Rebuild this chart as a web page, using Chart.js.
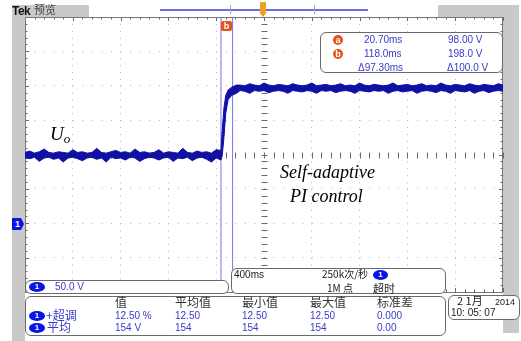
<!DOCTYPE html>
<html><head><meta charset="utf-8">
<script src="https://cdn.jsdelivr.net/npm/chart.js@4.4.1/dist/chart.umd.min.js"></script>
<style>
html,body{margin:0;padding:0;background:#fff;}
#wrap{position:relative;width:521px;height:341px;overflow:hidden;font-family:"Liberation Sans",Arial,sans-serif;}
canvas{position:absolute;left:0;top:0;}
.g{position:absolute;background:#c9c9c9;}
.box{position:absolute;background:#fff;border:1px solid #6a6a6a;border-radius:6px;box-sizing:border-box;}
.t{position:absolute;white-space:nowrap;line-height:1;}
.bl{color:#3a3ac8;}
.cjk{font-family:"Noto Sans CJK SC",sans-serif;}
.pill{position:absolute;background:#0a14e6;border-radius:50%;color:#fff;font-size:8px;line-height:10px;text-align:center;font-weight:bold;}
.oc{position:absolute;background:#e5531c;color:#fff;border-radius:50%;font-weight:bold;font-size:9px;line-height:10px;text-align:center;}
.serif{font-family:"Liberation Serif","Times New Roman",serif;font-style:italic;color:#000;}
</style></head>
<body><div id="wrap">
<div class="g" style="left:12px;top:5px;width:13px;height:336px"></div>
<div class="g" style="left:503px;top:5px;width:16px;height:328px"></div>
<div class="g" style="left:438px;top:5px;width:81px;height:12px"></div>
<div class="g" style="left:12px;top:5px;width:77px;height:12px"></div>
<canvas id="c" width="521" height="341"></canvas>
<div class="t" style="left:12px;top:5px;font-size:12px;font-weight:bold;color:#111;letter-spacing:-0.5px">Tek</div>
<div class="t cjk" style="left:34px;top:4px;font-size:11px;color:#444">预览</div>
<div style="position:absolute;left:160px;top:9px;width:208px;height:1.5px;background:#6b6bef"></div>
<div style="position:absolute;left:230px;top:5px;width:1px;height:9px;background:#aaa"></div>
<div style="position:absolute;left:314px;top:5px;width:1px;height:9px;background:#aaa"></div>
<div style="position:absolute;left:260px;top:2px;width:6px;height:10px;background:#f0a020;border-radius:1px"></div>
<div style="position:absolute;left:259px;top:12px;width:0;height:0;border-left:4px solid transparent;border-right:4px solid transparent;border-top:5px solid #f0a020"></div>
<div class="oc" style="left:221px;top:21px;width:11px;height:10px;border-radius:2px">b</div>

<div class="box" style="left:320px;top:32px;width:183px;height:41px"></div>
<div class="oc" style="left:333px;top:35px;width:10px;height:10px">a</div>
<div class="oc" style="left:333px;top:49px;width:10px;height:10px">b</div>
<div class="t bl" style="left:364px;top:35px;font-size:10px">20.70ms</div>
<div class="t bl" style="left:448px;top:35px;font-size:10px">98.00 V</div>
<div class="t bl" style="left:364px;top:49px;font-size:10px">118.0ms</div>
<div class="t bl" style="left:448px;top:49px;font-size:10px">198.0 V</div>
<div class="t bl" style="left:358px;top:63px;font-size:10px">Δ97.30ms</div>
<div class="t bl" style="left:447px;top:63px;font-size:10px">Δ100.0 V</div>

<div class="t serif" style="left:50px;top:124px;font-size:19px">U<sub style="font-size:13px;vertical-align:-3px">o</sub></div>
<div class="t serif" style="left:280px;top:163px;font-size:18px">Self-adaptive</div>
<div class="t serif" style="left:290px;top:187px;font-size:18px">PI control</div>

<div style="position:absolute;left:12px;top:218px;width:12px;height:12px;background:#0a14e6;clip-path:polygon(0 0,75% 0,100% 50%,75% 100%,0 100%);color:#fff;font-size:9px;font-weight:bold;line-height:12px;text-indent:3px">1</div>

<div class="box" style="left:25px;top:280px;width:204px;height:14px"></div>
<div class="pill" style="left:29px;top:282px;width:16px;height:10px">1</div>
<div class="t bl" style="left:55px;top:282px;font-size:10px">50.0 V</div>

<div class="box" style="left:231px;top:268px;width:215px;height:26px"></div>
<div class="t" style="left:234px;top:270px;font-size:10px;color:#222">400ms</div>
<div class="t cjk" style="left:322px;top:269px;font-size:10px;color:#222">250k次/秒</div>
<div class="pill" style="left:373px;top:270px;width:15px;height:10px">1</div>
<div class="t cjk" style="left:327px;top:283px;font-size:10px;color:#222">1M 点</div>
<div class="t cjk" style="left:373px;top:283px;font-size:11px;color:#222">超时</div>

<div class="box" style="left:25px;top:296px;width:421px;height:40px"></div>
<div class="t cjk" style="left:115px;top:296px;font-size:12px;color:#333">值</div>
<div class="t cjk" style="left:175px;top:296px;font-size:12px;color:#333">平均值</div>
<div class="t cjk" style="left:242px;top:296px;font-size:12px;color:#333">最小值</div>
<div class="t cjk" style="left:310px;top:296px;font-size:12px;color:#333">最大值</div>
<div class="t cjk" style="left:377px;top:296px;font-size:12px;color:#333">标准差</div>
<div class="pill" style="left:29px;top:311px;width:16px;height:10px">1</div>
<div class="t cjk bl" style="left:46px;top:309px;font-size:12px">+超调</div>
<div class="t bl" style="left:115px;top:311px;font-size:10px">12.50 %</div>
<div class="t bl" style="left:175px;top:311px;font-size:10px">12.50</div>
<div class="t bl" style="left:242px;top:311px;font-size:10px">12.50</div>
<div class="t bl" style="left:310px;top:311px;font-size:10px">12.50</div>
<div class="t bl" style="left:377px;top:311px;font-size:10px">0.000</div>
<div class="pill" style="left:29px;top:323px;width:16px;height:10px">1</div>
<div class="t cjk bl" style="left:47px;top:321px;font-size:12px">平均</div>
<div class="t bl" style="left:115px;top:323px;font-size:10px">154 V</div>
<div class="t bl" style="left:175px;top:323px;font-size:10px">154</div>
<div class="t bl" style="left:242px;top:323px;font-size:10px">154</div>
<div class="t bl" style="left:310px;top:323px;font-size:10px">154</div>
<div class="t bl" style="left:377px;top:323px;font-size:10px">0.00</div>

<div class="box" style="left:448px;top:295px;width:72px;height:25px"></div>
<div class="t cjk" style="left:457px;top:295px;font-size:11px;color:#222">2 1月</div>
<div class="t" style="left:495px;top:298px;font-size:9px;color:#222">2014</div>
<div class="t" style="left:451px;top:308px;font-size:10px;color:#222">10: 05: 07</div>
</div>
<script>
// time axis in ms (400 ms/div), voltage in V (50 V/div)
const timeMs = [0,40,80,120,160,200,240,280,320,360,400,440,480,520,560,600,640,680,720,760,800,840,880,920,960,1000,1040,1080,1120,1160,1200,1240,1280,1320,1360,1400,1440,1480,1520,1560,1600,
  1640,1650,1665,1680,1700,1730,1770,
  1800,1840,1880,1920,1960,2000,2040,2080,2120,2160,2200,2240,2280,2320,2360,2400,2440,2480,2520,2560,2600,2640,2680,2720,2760,2800,2840,2880,2920,2960,3000,3040,3080,3120,3160,3200,3240,3280,3320,3360,3400,3440,3480,3520,3560,3600,3640,3680,3720,3760,3800,3840,3880,3920,3960,4000];
const upperV = [103,105,102,104,108,103,102,104,103,102,107,103,104,102,103,109,103,102,104,106,103,104,102,108,103,104,102,103,107,102,104,103,102,109,103,102,105,103,104,102,107,
  106,135,168,186,194,198,201,
  201,200,203,201,200,204,201,200,202,201,200,203,201,200,201,204,200,201,202,200,201,203,200,201,200,204,201,200,202,201,200,201,204,200,201,202,200,201,203,200,201,200,204,201,200,202,201,200,203,201,200,202,201,200,203,201];
const lowerV = [95,94,96,90,95,96,93,95,89,95,96,94,91,95,96,93,95,89,96,94,95,92,96,95,90,94,96,95,92,95,96,90,95,94,96,91,95,96,93,89,95,
  92,98,125,160,180,186,189,
  193,192,189,193,192,193,190,192,193,192,189,193,192,191,193,192,189,193,192,193,190,192,193,192,189,193,192,191,193,192,193,189,192,193,191,192,193,189,192,193,192,190,193,192,189,193,192,191,193,189,192,193,190,192,193,192];
const cursorA = 1640;      // ms position of cursor a
const cursorB = 1737.3;    // cursor b = a + 97.30 ms
const xRange = [0, 4000];
const yRange = [-100, 300];

const WAVE = '#1010a4', CUR = '#7a72ee';
const pts = (arr) => timeMs.map((t, i) => ({x: t, y: arr[i]}));

const scopeTicks = {
  id: 'scopeTicks',
  beforeDatasetsDraw(chart) {
    const {ctx, chartArea: a, scales: {x, y}} = chart;
    ctx.save();
    ctx.strokeStyle = '#6a6a6a'; ctx.lineWidth = 1;
    ctx.beginPath();
    const cy = Math.round(y.getPixelForValue(100)) + 0.5;
    const cx = Math.round(x.getPixelForValue(2000)) + 0.5;
    for (let t = xRange[0]; t <= xRange[1]; t += 80) {
      const px = Math.round(x.getPixelForValue(t)) + 0.5;
      const L = (t % 400 === 0) ? 4 : 2.5;
      ctx.moveTo(px, a.top); ctx.lineTo(px, a.top + L);
      ctx.moveTo(px, a.bottom); ctx.lineTo(px, a.bottom - L);
      ctx.moveTo(px, cy - 3); ctx.lineTo(px, cy + 3);
    }
    for (let v = yRange[0]; v <= yRange[1]; v += 10) {
      const py = Math.round(y.getPixelForValue(v)) + 0.5;
      const L = (v % 50 === 0) ? 4 : 2.5;
      ctx.moveTo(a.left, py); ctx.lineTo(a.left + L, py);
      ctx.moveTo(a.right, py); ctx.lineTo(a.right - L, py);
      ctx.moveTo(cx - 3, py); ctx.lineTo(cx + 3, py);
    }
    ctx.stroke();
    ctx.strokeStyle = '#777';
    ctx.strokeRect(Math.round(a.left) + 0.5, Math.round(a.top) + 0.5, Math.round(a.right - a.left) - 1, Math.round(a.bottom - a.top));
    ctx.restore();
  }
};

new Chart(document.getElementById('c'), {
  type: 'line',
  data: {
    datasets: [
      {label: 'max', data: pts(upperV), borderColor: WAVE, backgroundColor: WAVE, borderWidth: 1, pointRadius: 0, fill: '+1', tension: 0},
      {label: 'min', data: pts(lowerV), borderColor: WAVE, backgroundColor: WAVE, borderWidth: 1, pointRadius: 0, fill: false, tension: 0},
      {label: 'a', data: [{x: cursorA, y: yRange[0]}, {x: cursorA, y: yRange[1]}], borderColor: CUR, borderWidth: 1, pointRadius: 0, fill: false},
      {label: 'b', data: [{x: cursorB, y: yRange[0]}, {x: cursorB, y: yRange[1]}], borderColor: CUR, borderWidth: 1, pointRadius: 0, fill: false}
    ]
  },
  options: {
    responsive: false, animation: false, events: [],
    layout: {padding: {left: 25, right: 18, top: 17, bottom: 49}},
    plugins: {legend: {display: false}, tooltip: {enabled: false}},
    scales: {
      x: {type: 'linear', min: xRange[0], max: xRange[1],
          ticks: {display: false, stepSize: 400}, grid: {color: '#b5b5b5', drawTicks: false, lineWidth: 1},
          border: {display: false, dash: [1, 5.88]}, afterFit: s => { s.height = 0; }},
      y: {type: 'linear', min: yRange[0], max: yRange[1],
          ticks: {display: false, stepSize: 50}, grid: {color: '#b5b5b5', drawTicks: false, lineWidth: 1},
          border: {display: false, dash: [1, 8.56]}, afterFit: s => { s.width = 0; }}
    }
  },
  plugins: [scopeTicks]
});
</script>
</body></html>
